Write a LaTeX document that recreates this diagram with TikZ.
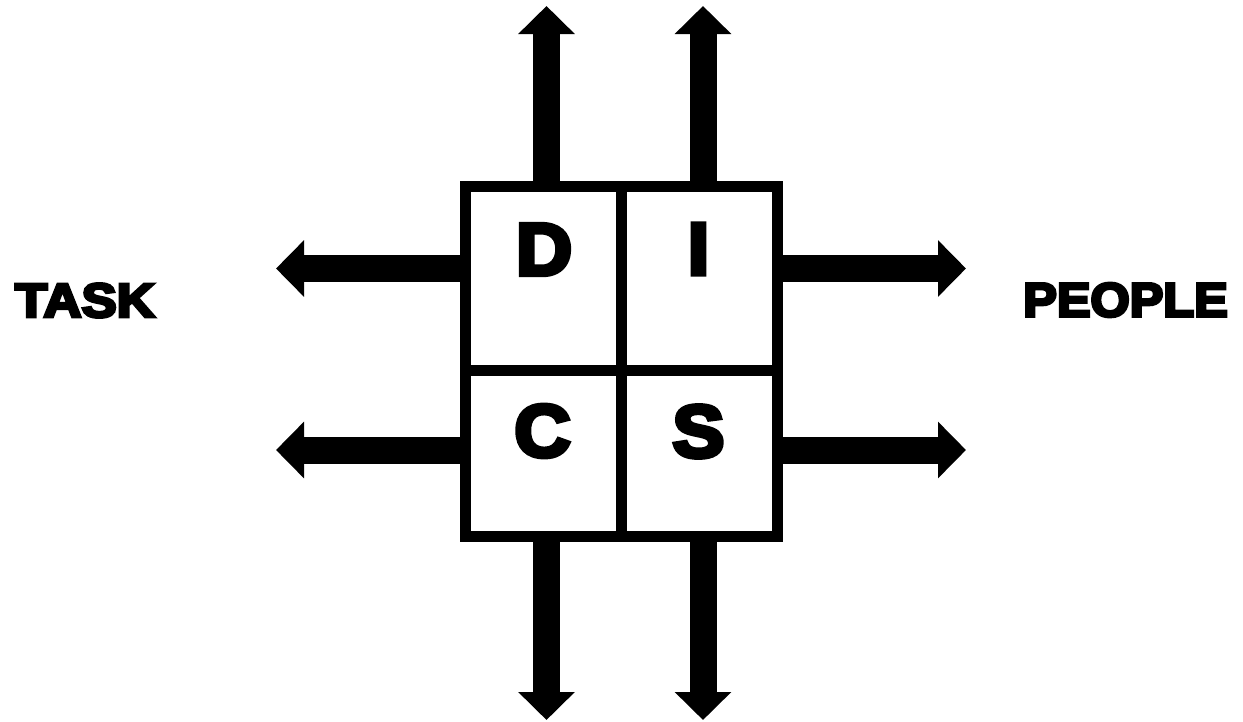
\documentclass[tikz,border=0pt]{standalone}
\usepackage{fontspec}
\usetikzlibrary{arrows.meta}
\newfontfamily\heavy{Liberation Sans Bold}[FakeBold=6]
\begin{document}
\begin{tikzpicture}[x=1pt,y=-1pt,
  cell/.style={draw=black,line width=11pt,inner sep=0pt,outer sep=0pt,anchor=north west},
  letter/.style={font=\heavy\fontsize{74}{74}\selectfont,inner sep=0pt,anchor=center},
  side/.style={font=\heavy\fontsize{48}{48}\selectfont,inner sep=0pt,anchor=center},
  blockarrow/.style={line width=27pt,-{Triangle[width=55pt,length=28pt]}}]
\useasboundingbox (0,0) rectangle (1243,721);
\fill[white] (0,0) rectangle (1243,721);
% cells
\node[cell,minimum width=155.5pt,minimum height=183.5pt] (dcell) at (465.5,186.5) {};
\node[cell,minimum width=156.5pt,minimum height=183.5pt] (icell) at (621,186.5) {};
\node[cell,minimum width=155.5pt,minimum height=166.5pt] (ccell) at (465.5,370) {};
\node[cell,minimum width=156.5pt,minimum height=166.5pt] (scell) at (621,370) {};
% letters
\node[letter,xscale=1.05] (D) at (544,249.5) {D};
\node[letter,xscale=1.05] (I) at (698.5,249) {I};
\node[letter,xscale=1.05] (C) at (542.5,431) {C};
\node[letter,xscale=1.05] (S) at (698.5,431.5) {S};
% side labels
\node[side,xscale=1.1] (task) at (85,300.5) {TASK};
\node[side,xscale=1.05] (people) at (1125.5,300) {PEOPLE};
% arrow start points on box edges
\coordinate (u1s) at (546.5,182);
\coordinate (u2s) at (703,182);
\coordinate (d1s) at (546.5,541);
\coordinate (d2s) at (703,541);
\coordinate (l1s) at (461,268.5);
\coordinate (l2s) at (461,450);
\coordinate (r1s) at (782,268.5);
\coordinate (r2s) at (782,450);
% free ends
\coordinate (u1e) at (546.5,6);
\coordinate (u2e) at (703,6);
\coordinate (d1e) at (546.5,720);
\coordinate (d2e) at (703,720);
\coordinate (l1e) at (276,268.5);
\coordinate (l2e) at (276,450);
\coordinate (r1e) at (966,268.5);
\coordinate (r2e) at (966,450);
\draw[blockarrow] (u1s) -- (u1e);
\draw[blockarrow] (u2s) -- (u2e);
\draw[blockarrow] (d1s) -- (d1e);
\draw[blockarrow] (d2s) -- (d2e);
\draw[blockarrow] (l1s) -- (l1e);
\draw[blockarrow] (l2s) -- (l2e);
\draw[blockarrow] (r1s) -- (r1e);
\draw[blockarrow] (r2s) -- (r2e);
\end{tikzpicture}
\end{document}
